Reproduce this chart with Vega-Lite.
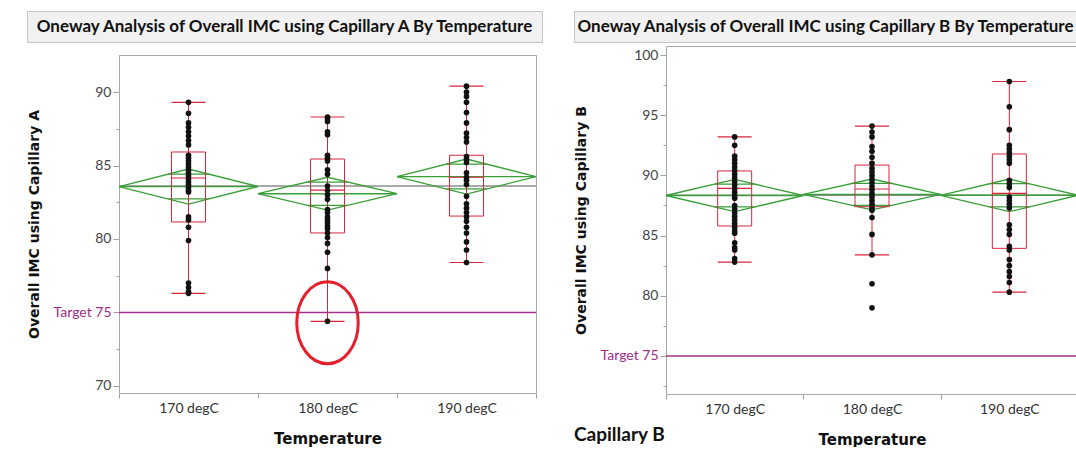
{
"$schema": "https://vega.github.io/schema/vega-lite/v6.json",
"padding": {"left": 26, "top": 10, "right": 0, "bottom": 0},
"background": "white",
"config": {
  "view": {"stroke": null},
  "axis": {"domainColor": "#a0a0a0", "tickColor": "#a0a0a0", "labelFont": "Lato", "labelFontSize": 14, "labelColor": "#444", "titleFont": "DejaVu Sans", "titleFontWeight": "bold", "titleColor": "#111", "grid": false}
},
"datasets": {
  "hdr": [
    {"p": "A", "t": "Oneway Analysis of Overall IMC using Capillary A  By Temperature"},
    {"p": "B", "t": "Oneway Analysis of Overall IMC using Capillary B  By Temperature"}
  ],
  "ref": [
    {"p": "A", "kind": "grand", "temp": "170 degC", "frac": 0, "imc": 83.6},
    {"p": "A", "kind": "grand", "temp": "190 degC", "frac": 1, "imc": 83.6},
    {"p": "A", "kind": "target", "temp": "170 degC", "frac": 0, "imc": 75},
    {"p": "A", "kind": "target", "temp": "190 degC", "frac": 1, "imc": 75},
    {"p": "B", "kind": "grand", "temp": "170 degC", "frac": 0, "imc": 88.35},
    {"p": "B", "kind": "grand", "temp": "190 degC", "frac": 1, "imc": 88.35},
    {"p": "B", "kind": "target", "temp": "170 degC", "frac": 0, "imc": 75},
    {"p": "B", "kind": "target", "temp": "190 degC", "frac": 1, "imc": 75}
  ],
  "note": [{"p": "A", "temp": "180 degC", "imc": 74.3}],
  "st": [
    {"p": "A", "temp": "170 degC", "q1": 81.16, "med": 84.15, "q3": 85.92, "wlo": 76.3, "whi": 89.3, "olo": 82.73, "ohi": 84.41},
    {"p": "A", "temp": "180 degC", "q1": 80.41, "med": 83.33, "q3": 85.44, "wlo": 74.4, "whi": 88.3, "olo": 82.29, "ohi": 83.87},
    {"p": "A", "temp": "190 degC", "q1": 81.56, "med": 84.2, "q3": 85.7, "wlo": 78.4, "whi": 90.4, "olo": 83.41, "ohi": 85.09},
    {"p": "B", "temp": "170 degC", "q1": 85.8, "med": 88.93, "q3": 90.37, "wlo": 82.8, "whi": 93.2, "olo": 87.38, "ohi": 89.28},
    {"p": "B", "temp": "180 degC", "q1": 87.4, "med": 88.87, "q3": 90.86, "wlo": 83.4, "whi": 94.1, "olo": 87.51, "ohi": 89.33},
    {"p": "B", "temp": "190 degC", "q1": 83.94, "med": 88.51, "q3": 91.78, "wlo": 80.3, "whi": 97.8, "olo": 87.39, "ohi": 89.31}
  ],
  "dia": [
    {"p": "A", "temp": "170 degC", "seg": "o", "v": 0, "frac": 0, "imc": 83.57},
    {"p": "A", "temp": "170 degC", "seg": "o", "v": 1, "frac": 0.5, "imc": 84.76},
    {"p": "A", "temp": "170 degC", "seg": "o", "v": 2, "frac": 1, "imc": 83.57},
    {"p": "A", "temp": "170 degC", "seg": "o", "v": 3, "frac": 0.5, "imc": 82.38},
    {"p": "A", "temp": "170 degC", "seg": "o", "v": 4, "frac": 0, "imc": 83.57},
    {"p": "A", "temp": "170 degC", "seg": "m", "v": 0, "frac": 0, "imc": 83.57},
    {"p": "A", "temp": "170 degC", "seg": "m", "v": 1, "frac": 1, "imc": 83.57},
    {"p": "A", "temp": "180 degC", "seg": "o", "v": 0, "frac": 0, "imc": 83.08},
    {"p": "A", "temp": "180 degC", "seg": "o", "v": 1, "frac": 0.5, "imc": 84.2},
    {"p": "A", "temp": "180 degC", "seg": "o", "v": 2, "frac": 1, "imc": 83.08},
    {"p": "A", "temp": "180 degC", "seg": "o", "v": 3, "frac": 0.5, "imc": 81.97},
    {"p": "A", "temp": "180 degC", "seg": "o", "v": 4, "frac": 0, "imc": 83.08},
    {"p": "A", "temp": "180 degC", "seg": "m", "v": 0, "frac": 0, "imc": 83.08},
    {"p": "A", "temp": "180 degC", "seg": "m", "v": 1, "frac": 1, "imc": 83.08},
    {"p": "A", "temp": "190 degC", "seg": "o", "v": 0, "frac": 0, "imc": 84.25},
    {"p": "A", "temp": "190 degC", "seg": "o", "v": 1, "frac": 0.5, "imc": 85.44},
    {"p": "A", "temp": "190 degC", "seg": "o", "v": 2, "frac": 1, "imc": 84.25},
    {"p": "A", "temp": "190 degC", "seg": "o", "v": 3, "frac": 0.5, "imc": 83.06},
    {"p": "A", "temp": "190 degC", "seg": "o", "v": 4, "frac": 0, "imc": 84.25},
    {"p": "A", "temp": "190 degC", "seg": "m", "v": 0, "frac": 0, "imc": 84.25},
    {"p": "A", "temp": "190 degC", "seg": "m", "v": 1, "frac": 1, "imc": 84.25},
    {"p": "B", "temp": "170 degC", "seg": "o", "v": 0, "frac": 0, "imc": 88.33},
    {"p": "B", "temp": "170 degC", "seg": "o", "v": 1, "frac": 0.5, "imc": 89.67},
    {"p": "B", "temp": "170 degC", "seg": "o", "v": 2, "frac": 1, "imc": 88.33},
    {"p": "B", "temp": "170 degC", "seg": "o", "v": 3, "frac": 0.5, "imc": 86.99},
    {"p": "B", "temp": "170 degC", "seg": "o", "v": 4, "frac": 0, "imc": 88.33},
    {"p": "B", "temp": "170 degC", "seg": "m", "v": 0, "frac": 0, "imc": 88.33},
    {"p": "B", "temp": "170 degC", "seg": "m", "v": 1, "frac": 1, "imc": 88.33},
    {"p": "B", "temp": "180 degC", "seg": "o", "v": 0, "frac": 0, "imc": 88.42},
    {"p": "B", "temp": "180 degC", "seg": "o", "v": 1, "frac": 0.5, "imc": 89.7},
    {"p": "B", "temp": "180 degC", "seg": "o", "v": 2, "frac": 1, "imc": 88.42},
    {"p": "B", "temp": "180 degC", "seg": "o", "v": 3, "frac": 0.5, "imc": 87.13},
    {"p": "B", "temp": "180 degC", "seg": "o", "v": 4, "frac": 0, "imc": 88.42},
    {"p": "B", "temp": "180 degC", "seg": "m", "v": 0, "frac": 0, "imc": 88.42},
    {"p": "B", "temp": "180 degC", "seg": "m", "v": 1, "frac": 1, "imc": 88.42},
    {"p": "B", "temp": "190 degC", "seg": "o", "v": 0, "frac": 0, "imc": 88.35},
    {"p": "B", "temp": "190 degC", "seg": "o", "v": 1, "frac": 0.5, "imc": 89.7},
    {"p": "B", "temp": "190 degC", "seg": "o", "v": 2, "frac": 1, "imc": 88.35},
    {"p": "B", "temp": "190 degC", "seg": "o", "v": 3, "frac": 0.5, "imc": 86.99},
    {"p": "B", "temp": "190 degC", "seg": "o", "v": 4, "frac": 0, "imc": 88.35},
    {"p": "B", "temp": "190 degC", "seg": "m", "v": 0, "frac": 0, "imc": 88.35},
    {"p": "B", "temp": "190 degC", "seg": "m", "v": 1, "frac": 1, "imc": 88.35}
  ],
  "pts": [
    {"p": "A", "temp": "170 degC", "imc": 89.3}, {"p": "A", "temp": "170 degC", "imc": 88.55}, {"p": "A", "temp": "170 degC", "imc": 87.9}, {"p": "A", "temp": "170 degC", "imc": 87.6}, {"p": "A", "temp": "170 degC", "imc": 87.3}, {"p": "A", "temp": "170 degC", "imc": 87.0}, {"p": "A", "temp": "170 degC", "imc": 86.7}, {"p": "A", "temp": "170 degC", "imc": 86.4}, {"p": "A", "temp": "170 degC", "imc": 85.7}, {"p": "A", "temp": "170 degC", "imc": 85.5}, {"p": "A", "temp": "170 degC", "imc": 85.3}, {"p": "A", "temp": "170 degC", "imc": 85.1}, {"p": "A", "temp": "170 degC", "imc": 84.9}, {"p": "A", "temp": "170 degC", "imc": 84.7}, {"p": "A", "temp": "170 degC", "imc": 84.5}, {"p": "A", "temp": "170 degC", "imc": 84.3}, {"p": "A", "temp": "170 degC", "imc": 84.1}, {"p": "A", "temp": "170 degC", "imc": 83.9}, {"p": "A", "temp": "170 degC", "imc": 83.7}, {"p": "A", "temp": "170 degC", "imc": 83.5}, {"p": "A", "temp": "170 degC", "imc": 83.3}, {"p": "A", "temp": "170 degC", "imc": 83.2}, {"p": "A", "temp": "170 degC", "imc": 81.5}, {"p": "A", "temp": "170 degC", "imc": 81.3}, {"p": "A", "temp": "170 degC", "imc": 80.8}, {"p": "A", "temp": "170 degC", "imc": 79.9}, {"p": "A", "temp": "170 degC", "imc": 77.0}, {"p": "A", "temp": "170 degC", "imc": 76.7}, {"p": "A", "temp": "170 degC", "imc": 76.4}, {"p": "A", "temp": "170 degC", "imc": 76.3},
    {"p": "A", "temp": "180 degC", "imc": 88.3}, {"p": "A", "temp": "180 degC", "imc": 88.2}, {"p": "A", "temp": "180 degC", "imc": 88.0}, {"p": "A", "temp": "180 degC", "imc": 87.3}, {"p": "A", "temp": "180 degC", "imc": 87.1}, {"p": "A", "temp": "180 degC", "imc": 85.7}, {"p": "A", "temp": "180 degC", "imc": 85.5}, {"p": "A", "temp": "180 degC", "imc": 85.3}, {"p": "A", "temp": "180 degC", "imc": 84.7}, {"p": "A", "temp": "180 degC", "imc": 84.4}, {"p": "A", "temp": "180 degC", "imc": 83.6}, {"p": "A", "temp": "180 degC", "imc": 83.3}, {"p": "A", "temp": "180 degC", "imc": 83.0}, {"p": "A", "temp": "180 degC", "imc": 82.7}, {"p": "A", "temp": "180 degC", "imc": 82.0}, {"p": "A", "temp": "180 degC", "imc": 81.8}, {"p": "A", "temp": "180 degC", "imc": 81.5}, {"p": "A", "temp": "180 degC", "imc": 81.3}, {"p": "A", "temp": "180 degC", "imc": 81.1}, {"p": "A", "temp": "180 degC", "imc": 80.9}, {"p": "A", "temp": "180 degC", "imc": 80.7}, {"p": "A", "temp": "180 degC", "imc": 80.4}, {"p": "A", "temp": "180 degC", "imc": 80.1}, {"p": "A", "temp": "180 degC", "imc": 79.7}, {"p": "A", "temp": "180 degC", "imc": 79.1}, {"p": "A", "temp": "180 degC", "imc": 78.0}, {"p": "A", "temp": "180 degC", "imc": 74.4},
    {"p": "A", "temp": "190 degC", "imc": 90.4}, {"p": "A", "temp": "190 degC", "imc": 90.0}, {"p": "A", "temp": "190 degC", "imc": 89.7}, {"p": "A", "temp": "190 degC", "imc": 89.3}, {"p": "A", "temp": "190 degC", "imc": 88.6}, {"p": "A", "temp": "190 degC", "imc": 87.9}, {"p": "A", "temp": "190 degC", "imc": 87.2}, {"p": "A", "temp": "190 degC", "imc": 86.9}, {"p": "A", "temp": "190 degC", "imc": 86.6}, {"p": "A", "temp": "190 degC", "imc": 85.6}, {"p": "A", "temp": "190 degC", "imc": 85.4}, {"p": "A", "temp": "190 degC", "imc": 85.2}, {"p": "A", "temp": "190 degC", "imc": 84.5}, {"p": "A", "temp": "190 degC", "imc": 84.2}, {"p": "A", "temp": "190 degC", "imc": 84.0}, {"p": "A", "temp": "190 degC", "imc": 83.7}, {"p": "A", "temp": "190 degC", "imc": 82.9}, {"p": "A", "temp": "190 degC", "imc": 82.4}, {"p": "A", "temp": "190 degC", "imc": 82.1}, {"p": "A", "temp": "190 degC", "imc": 81.8}, {"p": "A", "temp": "190 degC", "imc": 81.5}, {"p": "A", "temp": "190 degC", "imc": 81.2}, {"p": "A", "temp": "190 degC", "imc": 80.8}, {"p": "A", "temp": "190 degC", "imc": 80.4}, {"p": "A", "temp": "190 degC", "imc": 79.8}, {"p": "A", "temp": "190 degC", "imc": 79.25}, {"p": "A", "temp": "190 degC", "imc": 78.4},
    {"p": "B", "temp": "170 degC", "imc": 93.2}, {"p": "B", "temp": "170 degC", "imc": 92.5}, {"p": "B", "temp": "170 degC", "imc": 91.6}, {"p": "B", "temp": "170 degC", "imc": 91.3}, {"p": "B", "temp": "170 degC", "imc": 91.0}, {"p": "B", "temp": "170 degC", "imc": 90.7}, {"p": "B", "temp": "170 degC", "imc": 90.4}, {"p": "B", "temp": "170 degC", "imc": 90.1}, {"p": "B", "temp": "170 degC", "imc": 89.8}, {"p": "B", "temp": "170 degC", "imc": 89.5}, {"p": "B", "temp": "170 degC", "imc": 89.2}, {"p": "B", "temp": "170 degC", "imc": 88.9}, {"p": "B", "temp": "170 degC", "imc": 88.6}, {"p": "B", "temp": "170 degC", "imc": 88.3}, {"p": "B", "temp": "170 degC", "imc": 88.1}, {"p": "B", "temp": "170 degC", "imc": 87.5}, {"p": "B", "temp": "170 degC", "imc": 87.2}, {"p": "B", "temp": "170 degC", "imc": 86.9}, {"p": "B", "temp": "170 degC", "imc": 86.6}, {"p": "B", "temp": "170 degC", "imc": 86.3}, {"p": "B", "temp": "170 degC", "imc": 86.0}, {"p": "B", "temp": "170 degC", "imc": 85.7}, {"p": "B", "temp": "170 degC", "imc": 85.4}, {"p": "B", "temp": "170 degC", "imc": 85.2}, {"p": "B", "temp": "170 degC", "imc": 84.4}, {"p": "B", "temp": "170 degC", "imc": 84.0}, {"p": "B", "temp": "170 degC", "imc": 83.8}, {"p": "B", "temp": "170 degC", "imc": 83.1}, {"p": "B", "temp": "170 degC", "imc": 82.8},
    {"p": "B", "temp": "180 degC", "imc": 94.1}, {"p": "B", "temp": "180 degC", "imc": 93.6}, {"p": "B", "temp": "180 degC", "imc": 93.2}, {"p": "B", "temp": "180 degC", "imc": 92.4}, {"p": "B", "temp": "180 degC", "imc": 92.0}, {"p": "B", "temp": "180 degC", "imc": 91.5}, {"p": "B", "temp": "180 degC", "imc": 91.0}, {"p": "B", "temp": "180 degC", "imc": 90.6}, {"p": "B", "temp": "180 degC", "imc": 90.3}, {"p": "B", "temp": "180 degC", "imc": 90.0}, {"p": "B", "temp": "180 degC", "imc": 89.7}, {"p": "B", "temp": "180 degC", "imc": 89.4}, {"p": "B", "temp": "180 degC", "imc": 89.1}, {"p": "B", "temp": "180 degC", "imc": 88.8}, {"p": "B", "temp": "180 degC", "imc": 88.5}, {"p": "B", "temp": "180 degC", "imc": 88.2}, {"p": "B", "temp": "180 degC", "imc": 87.9}, {"p": "B", "temp": "180 degC", "imc": 87.6}, {"p": "B", "temp": "180 degC", "imc": 87.3}, {"p": "B", "temp": "180 degC", "imc": 87.1}, {"p": "B", "temp": "180 degC", "imc": 86.5}, {"p": "B", "temp": "180 degC", "imc": 85.1}, {"p": "B", "temp": "180 degC", "imc": 83.4}, {"p": "B", "temp": "180 degC", "imc": 81.0}, {"p": "B", "temp": "180 degC", "imc": 79.0},
    {"p": "B", "temp": "190 degC", "imc": 97.8}, {"p": "B", "temp": "190 degC", "imc": 95.7}, {"p": "B", "temp": "190 degC", "imc": 93.8}, {"p": "B", "temp": "190 degC", "imc": 92.5}, {"p": "B", "temp": "190 degC", "imc": 92.2}, {"p": "B", "temp": "190 degC", "imc": 91.9}, {"p": "B", "temp": "190 degC", "imc": 91.6}, {"p": "B", "temp": "190 degC", "imc": 91.3}, {"p": "B", "temp": "190 degC", "imc": 91.0}, {"p": "B", "temp": "190 degC", "imc": 89.6}, {"p": "B", "temp": "190 degC", "imc": 89.3}, {"p": "B", "temp": "190 degC", "imc": 89.0}, {"p": "B", "temp": "190 degC", "imc": 88.2}, {"p": "B", "temp": "190 degC", "imc": 87.9}, {"p": "B", "temp": "190 degC", "imc": 87.6}, {"p": "B", "temp": "190 degC", "imc": 87.3}, {"p": "B", "temp": "190 degC", "imc": 85.9}, {"p": "B", "temp": "190 degC", "imc": 85.5}, {"p": "B", "temp": "190 degC", "imc": 85.1}, {"p": "B", "temp": "190 degC", "imc": 84.1}, {"p": "B", "temp": "190 degC", "imc": 83.8}, {"p": "B", "temp": "190 degC", "imc": 83.0}, {"p": "B", "temp": "190 degC", "imc": 82.5}, {"p": "B", "temp": "190 degC", "imc": 82.0}, {"p": "B", "temp": "190 degC", "imc": 81.6}, {"p": "B", "temp": "190 degC", "imc": 81.1}, {"p": "B", "temp": "190 degC", "imc": 80.3}
  ]
},
"spacing": 30,
"hconcat": [
  {
    "vconcat": [
      {
        "width": 515, "height": 31,
        "view": {"fill": "#f1f1f1", "stroke": "#c4c4c4"},
        "data": {"name": "hdr"},
        "transform": [{"filter": "datum.p == 'A'"}],
        "mark": {"type": "text", "font": "Lato", "fontSize": 17, "fontWeight": "bold", "color": "#111"},
        "encoding": {"text": {"field": "t"}}
      },
      {
        "width": 509, "height": 338,
        "resolve": {"scale": {"xOffset": "independent"}, "axis": {"x": "independent", "y": "independent"}},
        "layer": [
          {
            "data": {"name": "ref"},
            "transform": [{"filter": "datum.p == 'A'"}],
            "mark": {"type": "line", "strokeWidth": 1.5},
            "encoding": {
              "x": {"field": "temp", "type": "nominal", "scale": {"type": "band", "paddingInner": 0, "paddingOuter": 0, "range": [92, 509]}, "axis": {"orient": "top", "labels": false, "ticks": false, "title": null, "domainColor": "#a8a8a8"}},
              "xOffset": {"field": "frac", "type": "quantitative", "scale": {"domain": [0, 1], "nice": false, "zero": false}},
              "y": {"field": "imc", "type": "quantitative", "scale": {"domain": [69.52, 92.52], "nice": false, "zero": false}, "axis": {"orient": "right", "labels": false, "ticks": false, "title": null, "domainColor": "#a8a8a8"}},
              "color": {"field": "kind", "type": "nominal", "scale": {"domain": ["grand", "target"], "range": ["#8c8c8c", "#a3338a"]}, "legend": null},
              "order": {"field": "frac", "type": "quantitative"}
            }
          },
          {
            "data": {"name": "dia"},
            "transform": [{"filter": "datum.p == 'A'"}],
            "mark": {"type": "line", "color": "#3a9e3a", "strokeWidth": 1.3},
            "encoding": {
              "x": {"field": "temp", "type": "nominal", "axis": null},
              "xOffset": {"field": "frac", "type": "quantitative", "scale": {"domain": [0, 1], "nice": false, "zero": false}},
              "y": {"field": "imc", "type": "quantitative", "axis": null},
              "detail": [{"field": "temp"}, {"field": "seg"}],
              "order": {"field": "v", "type": "quantitative"}
            }
          },
          {
            "data": {"name": "st"},
            "transform": [{"filter": "datum.p == 'A'"}, {"fold": ["olo", "ohi"], "as": ["which", "ov"]}],
            "mark": {"type": "tick", "color": "#3a9e3a", "size": 40, "thickness": 1.2, "opacity": 1},
            "encoding": {
              "x": {"field": "temp", "type": "nominal", "axis": null},
              "y": {"field": "ov", "type": "quantitative", "axis": null}
            }
          },
          {
            "data": {"name": "st"},
            "transform": [{"filter": "datum.p == 'A'"}],
            "mark": {"type": "bar", "width": 34, "fill": "transparent", "stroke": "#d9263d", "strokeWidth": 1},
            "encoding": {
              "x": {"field": "temp", "type": "nominal", "axis": null},
              "y": {"field": "q1", "type": "quantitative", "axis": null},
              "y2": {"field": "q3"}
            }
          },
          {
            "data": {"name": "st"},
            "transform": [{"filter": "datum.p == 'A'"}],
            "mark": {"type": "rule", "color": "#d9263d", "strokeWidth": 1},
            "encoding": {
              "x": {"field": "temp", "type": "nominal", "axis": null},
              "y": {"field": "wlo", "type": "quantitative", "axis": null},
              "y2": {"field": "whi"}
            }
          },
          {
            "data": {"name": "st"},
            "transform": [{"filter": "datum.p == 'A'"}, {"fold": ["wlo", "whi", "med"], "as": ["which", "tv"]}],
            "mark": {"type": "tick", "color": "#d9263d", "size": 34, "thickness": 1.2, "opacity": 1},
            "encoding": {
              "x": {"field": "temp", "type": "nominal", "axis": null},
              "y": {"field": "tv", "type": "quantitative", "axis": null}
            }
          },
          {
            "data": {"name": "pts"},
            "transform": [{"filter": "datum.p == 'A'"}],
            "mark": {"type": "point", "filled": true, "color": "#111", "size": 32, "opacity": 1},
            "encoding": {
              "x": {"field": "temp", "type": "nominal", "axis": {"title": "Temperature", "titleFontSize": 15, "tickBand": "extent", "labelAngle": 0, "tickSize": 5, "labelPadding": 3, "titlePadding": 16, "labelColor": "#333", "domainColor": "#a8a8a8"}},
              "y": {"field": "imc", "type": "quantitative", "axis": {"title": "Overall IMC using Capillary A", "titleFontSize": 14, "offset": -92, "tickCount": 30, "values": [70, 72.5, 75, 77.5, 80, 82.5, 85, 87.5, 90], "labelOverlap": false, "labelExpr": "datum.value == 75 ? 'Target 75' : (datum.value % 5 == 0 ? datum.label : '')", "labelColor": {"condition": {"test": "datum.value == 75", "value": "#9c2c84"}, "value": "#444"}, "tickSize": {"condition": {"test": "datum.value % 5 != 0", "value": 3}, "value": 6}, "labelPadding": 2, "titlePadding": 12, "domainColor": "#a8a8a8"}}
            }
          },
          {
            "data": {"name": "note"},
            "mark": {"type": "point", "shape": "M0,-1A0.75,1 0 1,1 0,1A0.75,1 0 1,1 0,-1Z", "size": 6724, "filled": false, "stroke": "#e3202c", "strokeWidth": 3, "opacity": 1},
            "encoding": {
              "x": {"field": "temp", "type": "nominal", "axis": null},
              "y": {"field": "imc", "type": "quantitative", "axis": null}
            }
          }
        ]
      }
    ],
    "spacing": 12
  },
  {
    "vconcat": [
      {
        "width": 503, "height": 31,
        "view": {"fill": "#f1f1f1", "stroke": "#c4c4c4"},
        "data": {"name": "hdr"},
        "transform": [{"filter": "datum.p == 'B'"}],
        "mark": {"type": "text", "font": "Lato", "fontSize": 17, "fontWeight": "bold", "color": "#111"},
        "encoding": {"text": {"field": "t"}}
      },
      {
        "width": 504, "height": 348,
        "resolve": {"scale": {"xOffset": "independent"}, "axis": {"x": "independent", "y": "independent"}},
        "title": {"text": "Capillary B", "orient": "bottom", "anchor": "start", "frame": "bounds", "font": "Lato", "fontSize": 19, "fontWeight": "bold", "color": "#111", "offset": -21},
        "layer": [
          {
            "data": {"name": "ref"},
            "transform": [{"filter": "datum.p == 'B'"}],
            "mark": {"type": "line", "strokeWidth": 1.5},
            "encoding": {
              "x": {"field": "temp", "type": "nominal", "scale": {"type": "band", "paddingInner": 0, "paddingOuter": 0, "range": [92, 504]}, "axis": {"orient": "top", "labels": false, "ticks": false, "title": null, "domainColor": "#a8a8a8"}},
              "xOffset": {"field": "frac", "type": "quantitative", "scale": {"domain": [0, 1], "nice": false, "zero": false}},
              "y": {"field": "imc", "type": "quantitative", "scale": {"domain": [71.84, 100.75], "nice": false, "zero": false}, "axis": {"orient": "right", "labels": false, "ticks": false, "title": null, "domainColor": "#a8a8a8"}},
              "color": {"field": "kind", "type": "nominal", "scale": {"domain": ["grand", "target"], "range": ["#8c8c8c", "#a3338a"]}, "legend": null},
              "order": {"field": "frac", "type": "quantitative"}
            }
          },
          {
            "data": {"name": "dia"},
            "transform": [{"filter": "datum.p == 'B'"}],
            "mark": {"type": "line", "color": "#3a9e3a", "strokeWidth": 1.3},
            "encoding": {
              "x": {"field": "temp", "type": "nominal", "axis": null},
              "xOffset": {"field": "frac", "type": "quantitative", "scale": {"domain": [0, 1], "nice": false, "zero": false}},
              "y": {"field": "imc", "type": "quantitative", "axis": null},
              "detail": [{"field": "temp"}, {"field": "seg"}],
              "order": {"field": "v", "type": "quantitative"}
            }
          },
          {
            "data": {"name": "st"},
            "transform": [{"filter": "datum.p == 'B'"}, {"fold": ["olo", "ohi"], "as": ["which", "ov"]}],
            "mark": {"type": "tick", "color": "#3a9e3a", "size": 40, "thickness": 1.2, "opacity": 1},
            "encoding": {
              "x": {"field": "temp", "type": "nominal", "axis": null},
              "y": {"field": "ov", "type": "quantitative", "axis": null}
            }
          },
          {
            "data": {"name": "st"},
            "transform": [{"filter": "datum.p == 'B'"}],
            "mark": {"type": "bar", "width": 34, "fill": "transparent", "stroke": "#d9263d", "strokeWidth": 1},
            "encoding": {
              "x": {"field": "temp", "type": "nominal", "axis": null},
              "y": {"field": "q1", "type": "quantitative", "axis": null},
              "y2": {"field": "q3"}
            }
          },
          {
            "data": {"name": "st"},
            "transform": [{"filter": "datum.p == 'B'"}],
            "mark": {"type": "rule", "color": "#d9263d", "strokeWidth": 1},
            "encoding": {
              "x": {"field": "temp", "type": "nominal", "axis": null},
              "y": {"field": "wlo", "type": "quantitative", "axis": null},
              "y2": {"field": "whi"}
            }
          },
          {
            "data": {"name": "st"},
            "transform": [{"filter": "datum.p == 'B'"}, {"fold": ["wlo", "whi", "med"], "as": ["which", "tv"]}],
            "mark": {"type": "tick", "color": "#d9263d", "size": 34, "thickness": 1.2, "opacity": 1},
            "encoding": {
              "x": {"field": "temp", "type": "nominal", "axis": null},
              "y": {"field": "tv", "type": "quantitative", "axis": null}
            }
          },
          {
            "data": {"name": "pts"},
            "transform": [{"filter": "datum.p == 'B'"}],
            "mark": {"type": "point", "filled": true, "color": "#111", "size": 32, "opacity": 1},
            "encoding": {
              "x": {"field": "temp", "type": "nominal", "axis": {"title": "Temperature", "titleFontSize": 15, "tickBand": "extent", "labelAngle": 0, "tickSize": 5, "labelPadding": 3, "titlePadding": 16, "labelColor": "#333", "domainColor": "#a8a8a8"}},
              "y": {"field": "imc", "type": "quantitative", "axis": {"title": "Overall IMC using Capillary B", "titleFontSize": 14, "offset": -92, "tickCount": 30, "values": [72.5, 75, 77.5, 80, 82.5, 85, 87.5, 90, 92.5, 95, 97.5, 100], "labelOverlap": false, "labelExpr": "datum.value == 75 ? 'Target 75' : (datum.value % 5 == 0 ? datum.label : '')", "labelColor": {"condition": {"test": "datum.value == 75", "value": "#9c2c84"}, "value": "#444"}, "tickSize": {"condition": {"test": "datum.value % 5 != 0", "value": 3}, "value": 6}, "labelPadding": 2, "titlePadding": 12, "domainColor": "#a8a8a8"}}
            }
          }
        ]
      }
    ],
    "spacing": 3
  }
]
}
